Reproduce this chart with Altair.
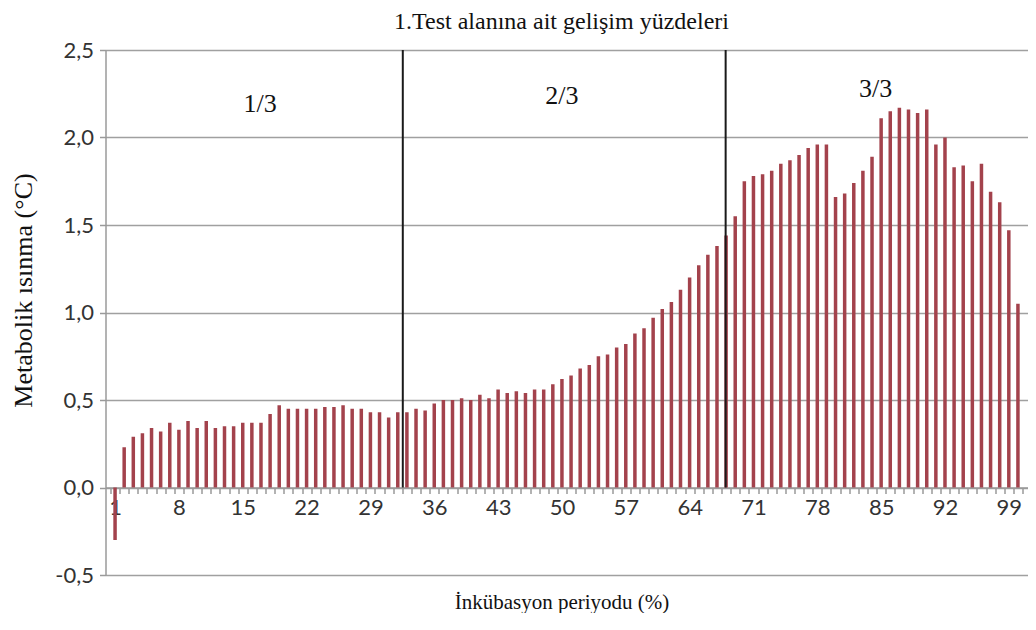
import altair as alt
import pandas as pd

# Data
periods = list(range(1, 101))
heating = [
    -0.30, 0.23, 0.29, 0.31, 0.34, 0.32, 0.37, 0.33, 0.38, 0.34,
    0.38, 0.34, 0.35, 0.35, 0.37, 0.37, 0.37, 0.42, 0.47, 0.45,
    0.45, 0.45, 0.45, 0.46, 0.46, 0.47, 0.45, 0.45, 0.43, 0.43,
    0.40, 0.43, 0.43, 0.45, 0.44, 0.48, 0.50, 0.50, 0.51, 0.50,
    0.53, 0.51, 0.56, 0.54, 0.55, 0.54, 0.56, 0.56, 0.59, 0.62,
    0.64, 0.68, 0.70, 0.75, 0.76, 0.80, 0.82, 0.88, 0.91, 0.97,
    1.02, 1.06, 1.13, 1.20, 1.27, 1.33, 1.38, 1.44, 1.55, 1.75,
    1.78, 1.79, 1.81, 1.85, 1.87, 1.90, 1.94, 1.96, 1.96, 1.66,
    1.68, 1.74, 1.81, 1.89, 2.11, 2.15, 2.17, 2.16, 2.14, 2.16,
    1.96, 2.00, 1.83, 1.84, 1.75, 1.85, 1.69, 1.63, 1.47, 1.05,
]
divider_at = [32.55, 67.95]
section_labels = ["1/3", "2/3", "3/3"]
section_x = [16.9, 50.0, 84.4]
section_y = [2.19, 2.24, 2.28]
x_tick_values = [i + 0.5 for i in range(0, 101)]
y_tick_values = [-0.5, 0.0, 0.5, 1.0, 1.5, 2.0, 2.5]

bars_df = pd.DataFrame({"x": periods, "y": heating})
div_df = pd.DataFrame({"x": divider_at, "y": [2.5] * len(divider_at), "y2": [0.0] * len(divider_at)})
lab_df = pd.DataFrame({"x": section_x, "y": section_y, "label": section_labels})

W, H = 922, 525
zero_offset = -H * 0.5 / 3.0
step = W / 100.0

xscale = alt.Scale(domain=[0.5, 100.5], nice=False, zero=False)
yscale = alt.Scale(domain=[-0.5, 2.5], nice=False)

bars = alt.Chart(bars_df).mark_bar(width=3.5, color="#a3424c").encode(
    x=alt.X(
        "x:Q",
        scale=xscale,
        axis=alt.Axis(
            title="İnkübasyon periyodu (%)",
            titleFont="Liberation Serif",
            titleFontSize=21,
            titleFontWeight="normal",
            titleColor="#111111",
            titleY=104,
            titleX=456,
            titleBaseline="top",
            values=x_tick_values,
            tickCount=500,
            labelExpr="((datum.value + 0.5 - 1) % 7 == 0 && datum.value < 100) ? format(datum.value + 0.5, 'd') : ''",
            labelOffset=step / 2,
            labelOverlap=False,
            labelFlush=False,
            labelBound=False,
            labelFont="Lato",
            labelFontSize=22,
            labelColor="#333333",
            labelPadding=4,
            tickSize=6,
            tickColor="#9a9a9a",
            tickWidth=1.5,
            domainColor="#9a9a9a",
            domainWidth=1.5,
            grid=False,
            offset=zero_offset,
        ),
    ),
    y=alt.Y(
        "y:Q",
        scale=yscale,
        axis=alt.Axis(
            title="Metabolik ısınma (°C)",
            titleFont="Liberation Serif",
            titleFontSize=26,
            titleFontWeight="normal",
            titleColor="#111111",
            titleX=-69,
            titleY=240,
            values=y_tick_values,
            tickCount=50,
            labelExpr="replace(replace(format(datum.value, '.1f'), '.', ','), '\u2212', '-')",
            labelFont="Lato",
            labelFontSize=22,
            labelColor="#333333",
            labelPadding=6,
            tickSize=6,
            tickColor="#9a9a9a",
            tickWidth=1.5,
            domainColor="#9a9a9a",
            domainWidth=1.5,
            grid=True,
            gridColor="#a0a0a0",
            gridWidth=1.5,
        ),
    ),
)

dividers = alt.Chart(div_df).mark_rule(color="#1a1a1a", strokeWidth=2).encode(
    x=alt.X("x:Q", scale=xscale),
    y=alt.Y("y:Q", scale=yscale),
    y2="y2:Q",
)

labels = alt.Chart(lab_df).mark_text(
    font="Liberation Serif", fontSize=26, color="#111111"
).encode(
    x=alt.X("x:Q", scale=xscale),
    y=alt.Y("y:Q", scale=yscale),
    text="label:N",
)

chart = (
    alt.layer(bars, dividers, labels)
    .properties(
        width=W,
        height=H,
        title=alt.TitleParams(
            "1.Test alanına ait gelişim yüzdeleri",
            font="Liberation Serif",
            fontSize=24,
            fontWeight="normal",
            color="#111111",
            anchor="middle",
            dx=-5,
            offset=5,
        ),
        autosize=alt.AutoSizeParams(type="none"),
        padding={"left": 97.5, "top": 42, "right": 0, "bottom": 38},
    )
    .configure_view(stroke=None)
)

chart.save("out.html", embed_options={"renderer": "svg", "actions": False})
